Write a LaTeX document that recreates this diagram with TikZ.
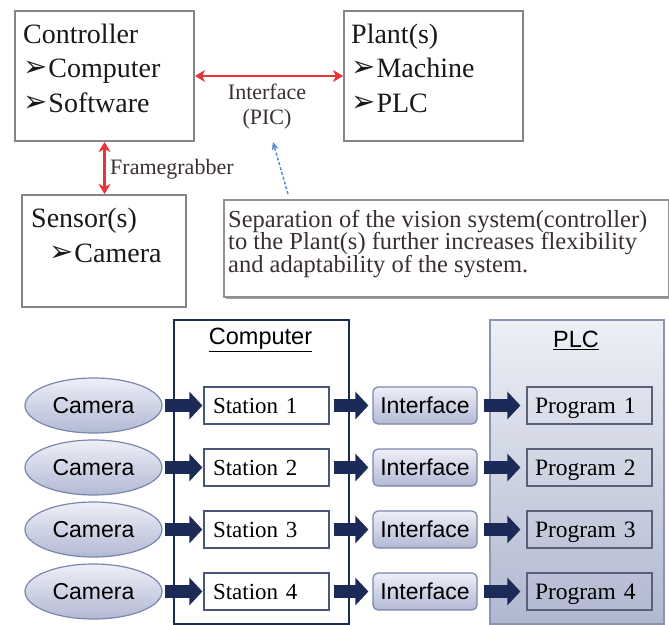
\documentclass[tikz,border=0pt]{standalone}
\usepackage{fontspec}
\setmainfont{Liberation Serif}
\newfontfamily\arialf{Liberation Sans}
\newfontfamily\dvf{DejaVu Sans}
\usetikzlibrary{arrows.meta,shapes.geometric}
\definecolor{navy}{HTML}{1B2A57}
\definecolor{boxgray}{HTML}{858585}
\definecolor{redarr}{HTML}{E8333A}
\definecolor{bluearr}{HTML}{5B88D0}
\definecolor{lbl}{HTML}{3A3030}
\definecolor{lavtop}{HTML}{EEF0F8}
\definecolor{lavbot}{HTML}{B1B9D3}
\definecolor{lavedge}{HTML}{7A86AC}
\definecolor{plctop}{HTML}{EEF0F6}
\definecolor{plcbot}{HTML}{B0B8D0}
\definecolor{plcedge}{HTML}{8A93B3}
\definecolor{progedge}{HTML}{5A6078}
\newcommand{\bul}{\raisebox{1pt}{\dvf\fontsize{29}{29}\selectfont ➢}\hspace{1pt}}
\begin{document}
\begin{tikzpicture}[x=1pt,y=-1pt,
  graybox/.style={draw=boxgray,line width=2pt,anchor=north west,inner sep=0pt,fill=white},
  bigtxt/.style={anchor=base west,inner sep=0pt,font=\fontsize{28}{30}\selectfont,text=black!90},
  midtxt/.style={inner sep=0pt,font=\fontsize{22}{24}\selectfont,text=lbl},
  septxt/.style={anchor=base west,inner sep=0pt,font=\fontsize{24.5}{26}\selectfont,text=lbl},
  redarrow/.style={draw=redarr,line width=2.6pt,{Stealth[length=10pt,width=12pt,inset=3pt]}-{Stealth[length=10pt,width=12pt,inset=3pt]}},
  cam/.style={ellipse,draw=lavedge,line width=1.2pt,top color=lavtop,bottom color=lavbot,minimum width=137pt,minimum height=55pt,inner sep=0pt,font=\arialf\fontsize{23}{24}\selectfont,text height=16.5pt,text depth=0pt},
  station/.style={draw=navy!80,line width=1.2pt,fill=white,minimum height=37pt,inner xsep=9pt,inner ysep=0pt,text width=107pt,align=left,font=\fontsize{23}{24}\selectfont,text height=15.2pt,text depth=0pt},
  iface/.style={draw=lavedge,line width=1.2pt,rounded corners=5pt,top color=lavtop,bottom color=lavbot,minimum width=104pt,minimum height=37pt,inner sep=0pt,font=\arialf\fontsize{23}{24}\selectfont,text height=16.5pt,text depth=0pt},
  prog/.style={draw=progedge,line width=1.2pt,minimum height=37pt,inner xsep=8pt,inner ysep=0pt,text width=109pt,align=left,font=\fontsize{23.5}{24}\selectfont,text height=15.5pt,text depth=0pt},
  blockarr/.style={draw=navy,fill=navy,line width=13pt,-{Triangle[length=13pt,width=27pt]}},
  hdr/.style={inner sep=0pt,font=\arialf\fontsize{23.5}{24}\selectfont}
]
\useasboundingbox (0,0) rectangle (669,624);

% ---------- top part ----------
\node[graybox,minimum width=179pt,minimum height=130pt] (ctrl) at (14,10) {};
\node[graybox,minimum width=179pt,minimum height=130pt] (plant) at (343,10) {};
\node[graybox,minimum width=164pt,minimum height=112pt] (sens) at (21,194) {};

\node[bigtxt] (t1) at (23,43) {Controller};
\node[bigtxt] (t2) at (23,77) {\bul Computer};
\node[bigtxt] (t3) at (23,112) {\bul Software};
\node[bigtxt] (t4) at (351,43) {Plant(s)};
\node[bigtxt] (t5) at (351,77) {\bul Machine};
\node[bigtxt] (t6) at (351,112) {\bul PLC};
\node[bigtxt] (t7) at (31,227) {Sensor(s)};
\node[bigtxt] (t8) at (49,262) {\bul Camera};

\draw[redarrow] (ctrl.east) -- (plant.west);
\draw[redarrow] (ctrl.south) -- (ctrl.south |- sens.north);

\node[midtxt,anchor=base] (ifl) at (267,99) {Interface};
\node[midtxt,anchor=base] (pic) at (267,124) {(PIC)};
\node[midtxt,anchor=base west] (fg) at (110,174) {Framegrabber};

% note box with shadow
\fill[gray!75] (226,202) rectangle (671,299);
\node[graybox,draw=boxgray!90,line width=1.6pt,minimum width=445pt,minimum height=97pt] (note) at (223,199) {};
\node[septxt] (s1) at (228,227) {Separation of the vision system(controller)};
\node[septxt] (s2) at (228,249.5) {to the Plant(s) further increases flexibility};
\node[septxt] (s3) at (228,272) {and adaptability of the system.};

\coordinate (bt) at (288,194);
\coordinate (bh) at (273,142);
\draw[bluearr,line width=1.5pt,dash pattern=on 3pt off 2pt,-{Stealth[length=8pt,width=7pt]}] (bt) -- (bh);

% ---------- bottom part ----------
\node[draw=navy,line width=2.2pt,minimum width=175pt,minimum height=304pt,anchor=north west,inner sep=0pt] (comp) at (173,319) {};
\node[draw=plcedge,line width=1.5pt,top color=plctop,bottom color=plcbot,minimum width=174pt,minimum height=304pt,anchor=north west,inner sep=0pt] (plc) at (489,319) {};
\node[hdr] (comph) at (260.5,340) {\underline{Computer}};
\node[hdr] (plch) at (576,340) {\underline{PLC}};

\foreach \i/\yy in {1/405.5,2/467.5,3/529.5,4/591.5} {
  \node[cam] (cam\i) at (93.5,\yy) {Camera};
  \node[station] (st\i) at (266.5,\yy) {Station \i};
  \node[iface] (if\i) at (425,\yy) {Interface};
  \node[prog] (pg\i) at (589.5,\yy) {Program \i};
  \draw[blockarr,shorten <=2pt,shorten >=1pt] (cam\i) -- (st\i);
  \draw[blockarr,shorten <=4pt,shorten >=4pt] (st\i) -- (if\i);
  \draw[blockarr,shorten <=6pt,shorten >=6pt] (if\i) -- (pg\i);
}
\end{tikzpicture}
\end{document}
